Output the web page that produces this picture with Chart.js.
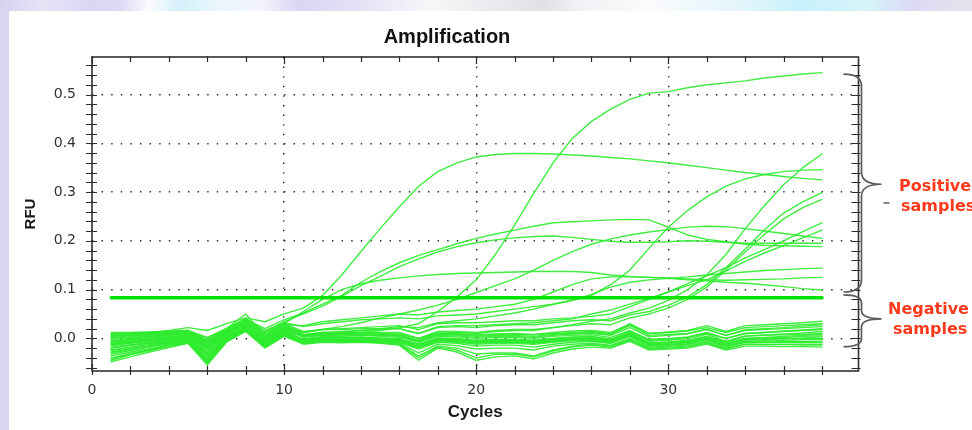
<!DOCTYPE html>
<html>
<head>
<meta charset="utf-8">
<script src="https://cdn.jsdelivr.net/npm/chart.js@4.4.1/dist/chart.umd.min.js"></script>
<style>
html,body{margin:0;padding:0;}
body{width:972px;height:430px;overflow:hidden;position:relative;background:#d8d6f2;}
#strip{position:absolute;left:0;top:0;width:972px;height:11px;
 background:linear-gradient(90deg,#d5d2f0 0px,#e6e4f7 45px,#d9d6f4 90px,#dcdaf6 120px,#fbfbff 150px,#d3f0fb 180px,#e8f6fc 215px,#f4f4fb 260px,#d9d6f3 300px,#e4e2f6 360px,#f7f7f9 430px,#e0e0e6 545px,#f2f2f6 580px,#fbfbfd 650px,#e3f5fb 740px,#c8f1fb 800px,#d6f3fb 870px,#dcd9f4 910px,#e3e2ee 960px);}
#panel{position:absolute;left:9px;top:11px;width:963px;height:419px;background:#ffffff;}
canvas{position:absolute;left:0;top:0;}
</style>
</head>
<body>
<div id="strip"></div>
<div id="panel"></div>
<canvas id="c" width="972" height="430"></canvas>
<script>
// ---------------- DATA ----------------
const chartTitle = 'Amplification';
const xTitle = 'Cycles';
const yTitle = 'RFU';
const cycles = [1,2,3,4,5,6,7,8,9,10,11,12,13,14,15,16,17,18,19,20,21,22,23,24,25,26,27,28,29,30,31,32,33,34,35,36,37,38];
const xTickValues = [0, 10, 20, 30];
const yTickValues = [0.0, 0.1, 0.2, 0.3, 0.4, 0.5];
const xMinorTicks = [0,2,4,6,8,10,12,14,16,18,20,22,24,26,28,30,32,34,36,38];
const yMinorTicks = [-0.06,-0.04,-0.02,0,0.02,0.04,0.06,0.08,0.1,0.12,0.14,0.16,0.18,0.2,0.22,0.24,0.26,0.28,0.3,0.32,0.34,0.36,0.38,0.4,0.42,0.44,0.46,0.48,0.5,0.52,0.54,0.56];
const thresholdCycles = [1, 38];
const thresholdRFU = 0.083;
const groupLabels = [['Positive', 'samples'], ['Negative', 'samples']];
const braceRanges = [[0.542, 0.316, 0.095], [0.089, 0.040, -0.017]];

// positive samples
const pos01 = [0.005,0.008,0.012,0.016,0.022,0.016,0.030,0.042,0.034,0.050,
 0.062,0.088,0.130,0.178,0.225,0.270,0.312,0.342,0.360,0.372,
 0.377,0.379,0.379,0.378,0.376,0.374,0.371,0.368,0.364,0.360,
 0.355,0.350,0.345,0.340,0.336,0.332,0.328,0.325];
const pos02 = [-0.020,-0.014,-0.009,-0.004,0.000,-0.028,0.004,0.024,-0.006,0.016,
 0.004,0.008,0.010,0.012,0.016,0.022,0.030,0.055,0.085,0.120,
 0.172,0.232,0.298,0.360,0.410,0.445,0.470,0.490,0.503,0.506,
 0.514,0.520,0.524,0.528,0.534,0.538,0.542,0.545];
const pos03 = [0.002,0.005,0.008,0.011,0.015,0.000,0.020,0.040,0.020,0.038,
 0.052,0.070,0.088,0.115,0.137,0.155,0.170,0.182,0.194,0.205,
 0.214,0.222,0.230,0.237,0.239,0.241,0.243,0.244,0.243,0.228,
 0.212,0.203,0.198,0.193,0.191,0.190,0.189,0.188];
const pos04 = [-0.004,0.000,0.004,0.008,0.012,-0.006,0.016,0.036,0.014,0.034,
 0.050,0.066,0.086,0.108,0.127,0.147,0.163,0.177,0.188,0.196,
 0.202,0.206,0.209,0.210,0.207,0.203,0.199,0.197,0.197,0.198,
 0.200,0.199,0.197,0.195,0.195,0.195,0.195,0.195];
const pos05 = [-0.010,-0.006,-0.002,0.002,0.006,-0.016,0.010,0.030,0.002,0.022,
 0.012,0.018,0.024,0.032,0.042,0.050,0.058,0.068,0.080,0.094,
 0.108,0.122,0.140,0.160,0.178,0.193,0.204,0.212,0.218,0.223,
 0.228,0.230,0.229,0.225,0.220,0.215,0.210,0.205];
const pos06 = [-0.015,-0.010,-0.006,-0.002,0.003,-0.024,0.006,0.026,-0.004,0.018,
 0.004,0.010,0.012,0.016,0.020,0.024,0.022,0.032,0.036,0.040,
 0.046,0.052,0.060,0.070,0.078,0.088,0.110,0.140,0.185,0.228,
 0.262,0.290,0.312,0.327,0.336,0.342,0.345,0.346];
const pos07 = [-0.025,-0.019,-0.013,-0.008,-0.003,-0.034,0.000,0.022,-0.010,0.012,
 -0.002,0.004,0.004,0.006,0.006,0.006,-0.006,0.010,0.012,0.010,
 0.014,0.016,0.016,0.022,0.028,0.035,0.040,0.052,0.062,0.078,
 0.100,0.130,0.172,0.225,0.272,0.315,0.350,0.378];
const pos08 = [0.008,0.010,0.012,0.014,0.016,-0.004,0.018,0.040,0.010,0.030,
 0.014,0.018,0.018,0.020,0.020,0.020,0.010,0.022,0.024,0.022,
 0.026,0.028,0.028,0.032,0.036,0.038,0.036,0.048,0.055,0.068,
 0.085,0.110,0.145,0.183,0.222,0.257,0.280,0.299];
const pos09 = [-0.008,-0.004,0.000,0.004,0.008,-0.014,0.012,0.032,0.000,0.020,
 0.006,0.010,0.010,0.012,0.012,0.012,0.000,0.014,0.014,0.012,
 0.016,0.018,0.018,0.022,0.026,0.030,0.028,0.042,0.050,0.062,
 0.080,0.105,0.140,0.177,0.213,0.245,0.268,0.285];
const pos10 = [0.000,0.003,0.006,0.009,0.012,-0.010,0.014,0.036,0.006,0.026,
 0.012,0.018,0.020,0.022,0.024,0.026,0.018,0.030,0.032,0.032,
 0.034,0.036,0.036,0.040,0.042,0.045,0.050,0.065,0.080,0.095,
 0.112,0.128,0.145,0.165,0.182,0.200,0.219,0.237];
const pos11 = [-0.012,-0.008,-0.004,0.000,0.004,-0.020,0.008,0.028,-0.002,0.018,
 0.006,0.012,0.014,0.016,0.018,0.020,0.010,0.024,0.026,0.026,
 0.028,0.030,0.032,0.036,0.040,0.050,0.058,0.070,0.082,0.095,
 0.108,0.120,0.138,0.158,0.175,0.190,0.206,0.222];
const pos12 = [0.004,0.007,0.010,0.013,0.016,0.002,0.020,0.040,0.016,0.032,
 0.024,0.030,0.034,0.038,0.040,0.042,0.040,0.046,0.048,0.050,
 0.055,0.060,0.065,0.070,0.078,0.090,0.105,0.115,0.120,0.123,
 0.126,0.130,0.133,0.136,0.139,0.141,0.143,0.144];
const pos13 = [-0.006,-0.002,0.002,0.006,0.010,-0.010,0.014,0.034,0.010,0.028,
 0.026,0.034,0.038,0.042,0.046,0.050,0.048,0.054,0.057,0.060,
 0.065,0.070,0.080,0.095,0.110,0.122,0.126,0.126,0.125,0.124,
 0.122,0.120,0.119,0.120,0.121,0.122,0.124,0.125];
const pos14 = [-0.014,-0.009,-0.004,0.001,0.006,-0.018,0.012,0.030,0.010,0.030,
 0.055,0.080,0.100,0.112,0.119,0.124,0.128,0.131,0.133,0.134,
 0.135,0.136,0.137,0.137,0.137,0.135,0.130,0.127,0.125,0.123,
 0.120,0.118,0.115,0.113,0.110,0.106,0.102,0.099];

// negative samples
const neg01 = [0.012,0.012,0.013,0.014,0.016,-0.008,0.016,0.036,0.004,0.026,
 0.008,0.012,0.011,0.012,0.010,0.009,0.000,0.011,0.010,0.007,
 0.009,0.010,0.008,0.012,0.015,0.016,0.012,0.028,0.010,0.013,
 0.016,0.026,0.014,0.026,0.028,0.030,0.032,0.035];
const neg02 = [0.006,0.007,0.008,0.010,0.012,-0.014,0.012,0.032,-0.002,0.022,
 0.004,0.008,0.007,0.008,0.006,0.004,-0.006,0.006,0.005,0.002,
 0.004,0.004,0.002,0.006,0.009,0.010,0.006,0.022,0.003,0.006,
 0.009,0.019,0.006,0.018,0.020,0.022,0.025,0.028];
const neg03 = [0.000,0.002,0.004,0.007,0.010,-0.018,0.010,0.030,-0.004,0.020,
 0.002,0.006,0.005,0.006,0.004,0.002,-0.008,0.004,0.003,0.000,
 0.002,0.002,0.000,0.004,0.006,0.007,0.002,0.016,-0.002,0.000,
 0.003,0.012,0.000,0.010,0.012,0.015,0.017,0.020];
const neg04 = [-0.006,-0.003,0.000,0.003,0.006,-0.022,0.006,0.026,-0.008,0.016,
 -0.002,0.003,0.002,0.003,0.001,-0.001,-0.012,0.001,0.000,-0.004,
 -0.002,-0.002,-0.004,0.000,0.003,0.004,-0.002,0.012,-0.006,-0.004,
 -0.001,0.008,-0.006,0.005,0.007,0.009,0.011,0.014];
const neg05 = [-0.012,-0.008,-0.005,-0.002,0.002,-0.028,0.003,0.024,-0.010,0.014,
 -0.004,0.000,-0.001,0.000,-0.002,-0.004,-0.014,-0.002,-0.003,-0.006,
 -0.005,-0.005,-0.007,-0.003,0.000,0.000,-0.005,0.009,-0.010,-0.008,
 -0.005,0.004,-0.010,0.000,0.002,0.004,0.006,0.008];
const neg06 = [-0.018,-0.013,-0.009,-0.005,0.000,-0.032,0.000,0.020,-0.012,0.012,
 -0.006,-0.002,-0.003,-0.002,-0.004,-0.006,-0.018,-0.004,-0.005,-0.009,
 -0.007,-0.007,-0.009,-0.005,-0.003,-0.003,-0.008,0.006,-0.013,-0.012,
 -0.009,0.000,-0.014,-0.004,-0.002,0.000,0.001,0.003];
const neg07 = [-0.024,-0.018,-0.013,-0.008,-0.003,-0.036,-0.002,0.020,-0.014,0.010,
 -0.007,-0.003,-0.004,-0.003,-0.005,-0.007,-0.020,-0.006,-0.008,-0.012,
 -0.010,-0.010,-0.012,-0.008,-0.005,-0.005,-0.010,0.004,-0.015,-0.013,
 -0.011,-0.002,-0.016,-0.006,-0.005,-0.004,-0.003,-0.002];
const neg08 = [-0.030,-0.023,-0.017,-0.011,-0.005,-0.042,-0.004,0.018,-0.016,0.008,
 -0.008,-0.005,-0.006,-0.005,-0.007,-0.010,-0.030,-0.012,-0.015,-0.022,
 -0.020,-0.020,-0.024,-0.016,-0.012,-0.010,-0.014,0.000,-0.018,-0.016,
 -0.014,-0.005,-0.018,-0.008,-0.008,-0.007,-0.007,-0.006];
const neg09 = [-0.036,-0.028,-0.021,-0.014,-0.007,-0.050,-0.006,0.016,-0.018,0.006,
 -0.010,-0.006,-0.007,-0.006,-0.008,-0.012,-0.040,-0.018,-0.024,-0.040,
 -0.033,-0.032,-0.038,-0.026,-0.018,-0.014,-0.018,-0.004,-0.022,-0.020,
 -0.018,-0.010,-0.022,-0.012,-0.012,-0.012,-0.012,-0.012];
const neg10 = [-0.042,-0.033,-0.025,-0.017,-0.009,-0.055,-0.008,0.014,-0.020,0.004,
 -0.012,-0.008,-0.009,-0.008,-0.010,-0.014,-0.045,-0.020,-0.028,-0.045,
 -0.038,-0.036,-0.042,-0.030,-0.022,-0.018,-0.020,-0.006,-0.024,-0.022,
 -0.020,-0.012,-0.024,-0.016,-0.016,-0.017,-0.017,-0.018];
const neg11 = [-0.048,-0.038,-0.028,-0.019,-0.010,-0.052,-0.006,0.016,-0.016,0.008,
 -0.008,-0.004,-0.005,-0.004,-0.006,-0.008,-0.022,-0.008,-0.010,-0.016,
 -0.014,-0.014,-0.018,-0.012,-0.008,-0.006,-0.010,0.004,-0.016,-0.014,
 -0.012,-0.002,-0.016,-0.008,-0.008,-0.008,-0.008,-0.008];
const neg12 = [-0.045,-0.034,-0.024,-0.014,-0.004,-0.046,0.002,0.024,-0.010,0.014,
 -0.003,0.002,0.001,0.002,0.000,-0.002,-0.012,0.000,-0.002,-0.006,
 -0.004,-0.004,-0.006,-0.002,0.000,0.001,-0.004,0.010,-0.010,-0.008,
 -0.006,0.003,-0.012,0.000,0.001,0.002,0.004,0.005];
const neg13 = [0.010,0.011,0.012,0.013,0.014,-0.010,0.014,0.038,0.002,0.024,
 0.006,0.010,0.009,0.010,0.008,0.006,-0.004,0.008,0.007,0.004,
 0.006,0.006,0.004,0.008,0.010,0.012,0.008,0.026,0.006,0.008,
 0.010,0.018,0.006,0.016,0.018,0.020,0.022,0.024];
const neg14 = [-0.020,-0.015,-0.010,-0.006,-0.002,-0.030,0.004,0.026,-0.008,0.016,
 -0.004,0.001,0.000,0.001,-0.001,-0.003,-0.013,-0.001,-0.002,-0.005,
 -0.003,-0.003,-0.005,-0.001,0.002,0.003,-0.002,0.014,-0.004,-0.002,
 0.002,0.010,0.000,0.010,0.012,0.014,0.016,0.018];
const neg15 = [-0.028,-0.021,-0.015,-0.009,-0.003,-0.040,0.000,0.022,-0.012,0.012,
 -0.006,-0.002,-0.003,-0.002,-0.004,-0.006,-0.016,-0.004,-0.005,-0.008,
 -0.006,-0.006,-0.008,-0.004,-0.002,-0.001,-0.006,0.008,-0.010,-0.008,
 -0.005,0.004,-0.008,0.004,0.006,0.007,0.008,0.010];
const neg16 = [-0.040,-0.031,-0.023,-0.015,-0.008,-0.048,-0.005,0.018,-0.016,0.006,
 -0.010,-0.006,-0.007,-0.006,-0.008,-0.012,-0.036,-0.016,-0.020,-0.032,
 -0.030,-0.030,-0.036,-0.024,-0.016,-0.012,-0.016,-0.002,-0.020,-0.018,
 -0.016,-0.008,-0.020,-0.012,-0.013,-0.013,-0.014,-0.014];
const neg17 = [0.004,0.006,0.008,0.011,0.014,-0.004,0.020,0.050,0.005,0.030,
 0.006,0.010,0.009,0.010,0.009,0.008,0.000,0.009,0.008,0.006,
 0.008,0.008,0.007,0.010,0.012,0.014,0.010,0.030,0.010,0.012,
 0.015,0.022,0.012,0.022,0.024,0.026,0.028,0.030];
const neg18 = [-0.033,-0.025,-0.018,-0.011,-0.004,-0.044,-0.002,0.020,-0.012,0.010,
 -0.005,-0.001,-0.002,-0.001,-0.003,-0.005,-0.018,-0.004,-0.006,-0.010,
 -0.008,-0.008,-0.010,-0.006,-0.003,-0.002,-0.007,0.008,-0.012,-0.010,
 -0.008,0.001,-0.012,-0.002,-0.002,-0.001,0.000,0.000];

const positiveSeries = [pos01,pos02,pos03,pos04,pos05,pos06,pos07,pos08,pos09,pos10,pos11,pos12,pos13,pos14];
const negativeSeries = [neg01,neg02,neg03,neg04,neg05,neg06,neg07,neg08,neg09,neg10,neg11,neg12,neg13,neg14,neg15,neg16,neg17,neg18];

// ---------------- CHART ----------------
const curveColor = 'rgba(48,236,48,0.92)';
function toPoints(vals){ return vals.map((v,i)=>({x:cycles[i], y:v})); }

const datasets = [];
datasets.push({label:'Threshold', data: thresholdCycles.map(c=>({x:c, y:thresholdRFU})),
  borderColor:'#00e400', borderWidth:3.5, order:-1});
positiveSeries.forEach((s,i)=>datasets.push({label:'Positive '+(i+1), data:toPoints(s), borderColor:curveColor, borderWidth:1.4}));
negativeSeries.forEach((s,i)=>datasets.push({label:'Negative '+(i+1), data:toPoints(s), borderColor:curveColor, borderWidth:1.4}));

const framePlugin = {
  id:'frame',
  afterDatasetsDraw(chart){
    const {ctx, chartArea:a, scales:{x, y}} = chart;
    ctx.save();
    ctx.strokeStyle = '#2a2a2a';
    ctx.lineWidth = 1.2;
    ctx.beginPath();
    xMinorTicks.forEach(v=>{
      const px = Math.round(x.getPixelForValue(v)) + 0.5;
      const big = (v % 10 === 0) ? 2 : 0;
      ctx.moveTo(px, a.bottom - 5 - big); ctx.lineTo(px, a.bottom + 4);
      ctx.moveTo(px, a.top - 1); ctx.lineTo(px, a.top + 5 + big);
    });
    yMinorTicks.forEach(v=>{
      const py = Math.round(y.getPixelForValue(v)) + 0.5;
      ctx.moveTo(a.left - 6, py); ctx.lineTo(a.left + 5, py);
      ctx.moveTo(a.right - 7, py); ctx.lineTo(a.right + 2, py);
    });
    ctx.stroke();
    ctx.lineWidth = 1.6;
    ctx.strokeStyle = '#333';
    ctx.strokeRect(a.left, a.top, a.right - a.left, a.bottom - a.top);
    ctx.restore();
  }
};

const annotPlugin = {
  id:'annot',
  afterDraw(chart){
    const {ctx, chartArea:a, scales:{y}} = chart;
    ctx.save();
    // title
    ctx.fillStyle = '#111';
    ctx.font = 'bold 20px "Liberation Sans", Arial, sans-serif';
    ctx.textAlign = 'center';
    ctx.textBaseline = 'middle';
    ctx.fillText(chartTitle, 447, 37);
    // braces
    ctx.strokeStyle = '#5c5c5c';
    ctx.lineWidth = 1.7;
    const xb = a.right + 3, xe = a.right - 15, xt = a.right + 23;
    braceRanges.forEach(r=>{
      const y0 = y.getPixelForValue(r[0]), ym = y.getPixelForValue(r[1]), y1 = y.getPixelForValue(r[2]);
      const c = Math.min(12, (ym - y0) / 3);
      ctx.beginPath();
      ctx.moveTo(xe, y0);
      ctx.quadraticCurveTo(xb, y0, xb, y0 + c);
      ctx.lineTo(xb, ym - c);
      ctx.quadraticCurveTo(xb, ym, xt, ym);
      ctx.quadraticCurveTo(xb, ym, xb, ym + c);
      ctx.lineTo(xb, y1 - c);
      ctx.quadraticCurveTo(xb, y1, xe, y1);
      ctx.stroke();
    });
    ctx.beginPath();
    ctx.lineWidth = 1.5;
    ctx.moveTo(a.right + 25, 203); ctx.lineTo(a.right + 31, 203);
    ctx.stroke();
    // group labels
    ctx.fillStyle = '#ff3a1c';
    ctx.font = 'bold 16px "DejaVu Sans", Verdana, sans-serif';
    ctx.textAlign = 'left';
    ctx.fillText(groupLabels[0][0], 899, 187);
    ctx.fillText(groupLabels[0][1], 901, 207);
    ctx.fillText(groupLabels[1][0], 888, 310);
    ctx.fillText(groupLabels[1][1], 893, 330);
    ctx.restore();
  }
};

const tickFont = {family:'"DejaVu Sans", Verdana, sans-serif', size:14};

new Chart(document.getElementById('c').getContext('2d'), {
  type:'line',
  data:{datasets},
  options:{
    responsive:false,
    animation:false,
    devicePixelRatio:1,
    layout:{padding:{top:57, left:0, right:113.5, bottom:0}},
    elements:{point:{radius:0}, line:{tension:0, borderJoinStyle:'round', borderCapStyle:'round'}},
    plugins:{legend:{display:false}, tooltip:{enabled:false}, title:{display:false}},
    scales:{
      x:{
        type:'linear', min:0, max:39.9,
        afterBuildTicks:s=>{ s.ticks = xTickValues.map(v=>({value:v})); },
        afterFit:s=>{ s.height = 59; },
        grid:{color:'#222', lineWidth:1.4, drawTicks:false},
        border:{display:false, dash:[1.4, 8.2]},
        ticks:{padding:11, color:'#333', font:tickFont, maxRotation:0, autoSkip:false, callback:v=>String(v)},
        title:{display:true, text:xTitle, color:'#1a1a1a', font:{family:'"Liberation Sans", Arial, sans-serif', size:17, weight:'bold'}, padding:{top:0, bottom:7}}
      },
      y:{
        type:'linear', min:-0.067, max:0.577,
        afterBuildTicks:s=>{ s.ticks = yTickValues.map(v=>({value:v})); },
        afterFit:s=>{ s.width = 92; },
        grid:{color:'#222', lineWidth:1.4, drawTicks:false},
        border:{display:false, dash:[1.4, 8.2]},
        ticks:{padding:16, color:'#333', font:tickFont, autoSkip:false, callback:v=>Number(v).toFixed(1)},
        title:{display:true, text:yTitle, color:'#1a1a1a', font:{family:'"Liberation Sans", Arial, sans-serif', size:15, weight:'bold'}, padding:{top:22, bottom:0}}
      }
    }
  },
  plugins:[framePlugin, annotPlugin]
});
</script>
</body>
</html>
